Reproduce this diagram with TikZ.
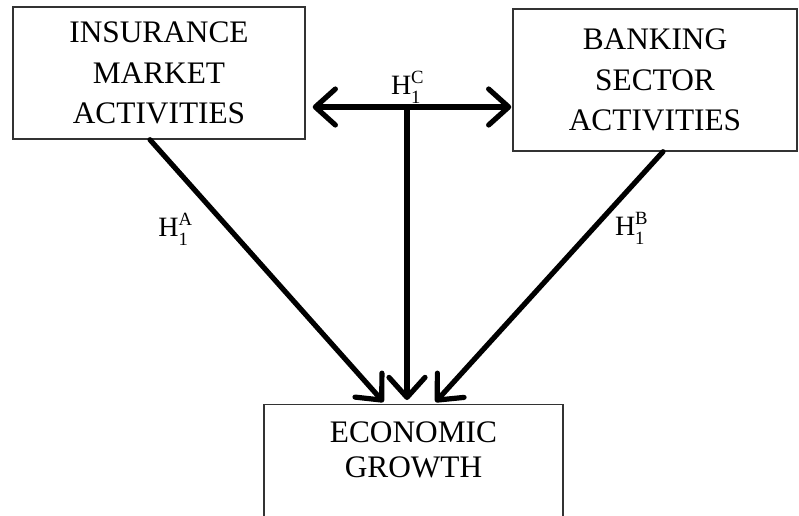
\documentclass[tikz,border=0pt]{standalone}
\usepackage{fontspec}
\setmainfont{Liberation Serif}
\usetikzlibrary{arrows.meta,calc}
\newcommand{\hyplab}[1]{H\rlap{\raisebox{0.85ex}{\fontsize{14}{14}\selectfont #1}}\raisebox{-0.7ex}{\fontsize{14}{14}\selectfont 1}\phantom{\fontsize{14}{14}\selectfont #1}}
\tikzset{
  tipbarb/.tip={Straight Barb[length=15pt, width=27pt, line width=0pt 1, line cap=round, line join=round]},
  box/.style={draw=black!80, line width=1.1pt, inner sep=0pt, align=center,
    font=\fontsize{23.5}{30.5}\selectfont},
  boxtext/.style={align=center, inner sep=0pt, font=\fontsize{23.5}{26}\selectfont},
  hlab/.style={inner sep=0pt, font=\fontsize{21}{24}\selectfont},
  conn/.style={line width=3.9pt, line cap=round, line join=round, -{tipbarb}},
  conn2/.style={line width=3.9pt, line cap=round, line join=round, {tipbarb}-{tipbarb}}
}
\begin{document}
\begin{tikzpicture}[x=0.75pt, y=-0.75pt]
\useasboundingbox (0,0) rectangle (799,515);
\clip (0,0) rectangle (799,515);
\fill[white] (0,0) rectangle (799,515);
\node[box, minimum width=219pt, minimum height=99pt] (ins) at (159,73) {INSURANCE\\MARKET\\ACTIVITIES};
\node[box, minimum width=213pt, minimum height=106.5pt] (bk) at (655,80) {BANKING\\SECTOR\\ACTIVITIES};
\node[draw=black!80, line width=1.1pt, inner sep=0pt, anchor=north, minimum width=224pt, minimum height=100pt] (eco) at (413.5,404) {};
\node[boxtext] (ecot) at (413.5,450) {ECONOMIC\\GROWTH};
\coordinate (mid) at (407,107);
\draw[conn2] ($(mid -| ins.east)+(7,0)$) -- ($(mid -| bk.west)+(-1,0)$);
\draw[conn] (mid) -- ($(mid |- eco.north)+(0,-4)$);
\draw[conn] ($(ins.south)+(-9,0)$) -- ($(eco.north)+(-30,-2)$);
\draw[conn] ($(bk.south)+(8,0)$) -- ($(eco.north)+(22,-2)$);
\node[hlab] (hc) at (412,87) {\hyplab{C}};
\node[hlab] (ha) at (180,229) {\hyplab{A}};
\node[hlab] (hb) at (636,228) {\hyplab{B}};
\end{tikzpicture}
\end{document}
